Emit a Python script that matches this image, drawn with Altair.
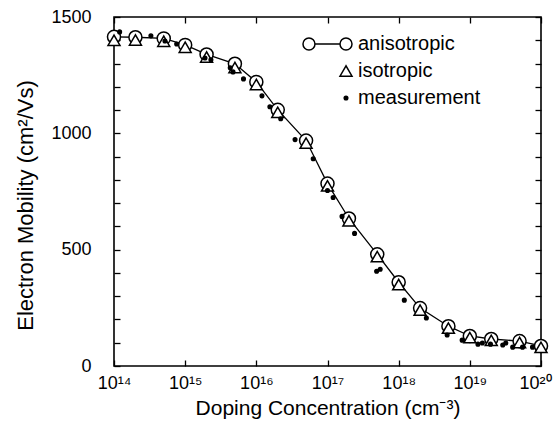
import altair as alt
import pandas as pd

# ---- data ----
series_names = ["anisotropic", "isotropic", "measurement"]

conc_model = [1e14, 2e14, 5e14, 1e15, 2e15, 5e15, 1e16, 2e16, 5e16, 1e17,
              2e17, 5e17, 1e18, 2e18, 5e18, 1e19, 2e19, 5e19, 1e20]
mob_aniso = [1415, 1413, 1408, 1380, 1339, 1299, 1221, 1101, 969, 784,
             634, 480, 360, 249, 171, 129, 116, 107, 86]
mob_iso = [1400, 1401, 1396, 1370, 1328, 1283, 1210, 1090, 958, 774,
           624, 470, 350, 240, 163, 122, 110, 101, 80]

conc_meas = [1.2e14, 3.3e14, 5.2e14, 7.6e14, 1.9e15, 2.3e15, 4.3e15, 4.7e15,
             6.6e15, 1.2e16, 1.55e16, 2.2e16, 3.5e16, 6.3e16, 1.0e17, 1.2e17,
             1.6e17, 2.4e17, 4.9e17, 5.5e17, 1.2e18, 2.45e18, 4.8e18, 7.8e18,
             1.3e19, 1.5e19, 1.95e19, 2.9e19, 3.2e19, 4.0e19, 5.5e19, 7.6e19]
mob_meas = [1436, 1419, 1397, 1384, 1324, 1316, 1282, 1264,
            1234, 1161, 1114, 1063, 973, 891, 754, 724,
            643, 570, 407, 416, 283, 206, 133, 111,
            94, 99, 94, 90, 99, 81, 81, 81]

x_ticks = [1e14, 1e15, 1e16, 1e17, 1e18, 1e19, 1e20]
x_exponents = [14, 15, 16, 17, 18, 19, 20]
y_ticks = list(range(0, 1501, 100))
y_labeled = [0, 500, 1000, 1500]

# ---- tables ----
df_a = pd.DataFrame({"conc": conc_model, "mob": mob_aniso, "series": "anisotropic"})
df_i = pd.DataFrame({"conc": conc_model, "mob": mob_iso, "series": "isotropic"})
df_m = pd.DataFrame({"conc": conc_meas, "mob": mob_meas, "series": "measurement"})

SUP = str.maketrans("0123456789-", "⁰¹²³⁴⁵⁶⁷⁸⁹⁻")
label_expr = " : ".join(
    f"abs(log(datum.value)/LN10 - {e}) < 0.01 ? '10{str(e).translate(SUP)}'"
    for e in x_exponents) + " : ''"
y_label_expr = ("indexof([" + ",".join(str(v) for v in y_labeled) +
                "], datum.value) >= 0 ? format(datum.value, 'd') : ''")

xscale = alt.Scale(type="log", domain=[1e14, 1e20], nice=False)
yscale = alt.Scale(domain=[0, 1500], nice=False, zero=True)

TK = 6
FONT = "Liberation Sans"
SYM = 144

# legend symbol for the model: circle - line - circle
oo_path = ("M1,0A1,1,0,1,1,-1,0A1,1,0,1,1,1,0"
           "M-1,0L-5.17,0"
           "M-5.17,0A1,1,0,1,1,-7.17,0A1,1,0,1,1,-5.17,0")
# small dot for the measurements
dot_path = "M0.3,0A0.3,0.3,0,1,1,-0.3,0A0.3,0.3,0,1,1,0.3,0Z"

shape_scale = alt.Scale(domain=series_names, range=[oo_path, "triangle-up", dot_path])
fill_scale = alt.Scale(domain=series_names, range=["white", "white", "black"])
stroke_scale = alt.Scale(domain=series_names, range=["black", "black", "black"])

line = alt.Chart(df_a).mark_line(color="black", strokeWidth=1.3).encode(
    x=alt.X("conc:Q", scale=xscale,
            axis=alt.Axis(orient="bottom", values=x_ticks, labelExpr=label_expr,
                          tickSize=TK, offset=-TK, domain=False, grid=False,
                          labelPadding=8, labelFontSize=18, labelFlush=False,
                          labelOffset={"condition": {"test": "datum.value > 5e19", "value": -6},
                                       "value": 0},
                          title="Doping Concentration (cm⁻³)", titleFontSize=21,
                          titlePadding=5)),
    y=alt.Y("mob:Q", scale=yscale,
            axis=alt.Axis(orient="left", values=y_ticks, labelExpr=y_label_expr,
                          tickSize=TK, offset=-TK, domain=False, grid=False,
                          labelPadding=23, labelFontSize=18, labelFlush=False,
                          title="Electron Mobility  (cm²/Vs)", titleFontSize=22,
                          titlePadding=13, titleY=188)),
)

circles = alt.Chart(df_a).mark_point(
    shape="circle", filled=True, fill="white", stroke="black",
    strokeWidth=1.5, size=170, opacity=1,
).encode(
    x=alt.X("conc:Q", scale=xscale,
            axis=alt.Axis(orient="top", values=x_ticks, labels=False, tickSize=TK,
                          offset=-TK, domain=False, grid=False, title=None)),
    y=alt.Y("mob:Q", scale=yscale,
            axis=alt.Axis(orient="right", values=y_ticks, labels=False, tickSize=TK,
                          offset=-TK, domain=False, grid=False, title=None)),
)


def keyed(df):
    return alt.Chart(df).mark_point(
        filled=False, color="black", strokeWidth=1.5, size=SYM, opacity=1,
    ).encode(
        x=alt.X("conc:Q", scale=xscale, axis=None),
        y=alt.Y("mob:Q", scale=yscale, axis=None),
        shape=alt.Shape("series:N", scale=shape_scale, legend=alt.Legend(title=None)),
        fill=alt.Fill("series:N", scale=fill_scale, legend=alt.Legend(title=None)),
        stroke=alt.Stroke("series:N", scale=stroke_scale, legend=alt.Legend(title=None)),
    )


triangles = keyed(df_i)
dots = keyed(df_m)

chart = (
    alt.layer(line, circles, triangles, dots)
    .resolve_axis(x="independent", y="independent")
    .properties(
        width=427, height=349,
        autosize=alt.AutoSizeParams(type="none"),
        padding={"left": 114, "top": 17, "right": 14, "bottom": 60},
        background="white",
    )
    .configure(font=FONT)
    .configure_view(stroke="black", strokeWidth=1.6)
    .configure_axis(labelColor="black", titleColor="black", tickColor="black",
                    tickWidth=1.3, titleFontWeight="normal", labelFont=FONT,
                    titleFont=FONT)
    .configure_legend(orient="none", legendX=222, legendY=17, padding=0,
                      labelFontSize=20, labelFont=FONT, labelColor="black",
                      labelOffset=2, rowPadding=7, symbolSize=SYM,
                      symbolStrokeWidth=1.5, symbolStrokeColor="black")
)

chart.save("out.html", embed_options={"renderer": "svg", "actions": False})
